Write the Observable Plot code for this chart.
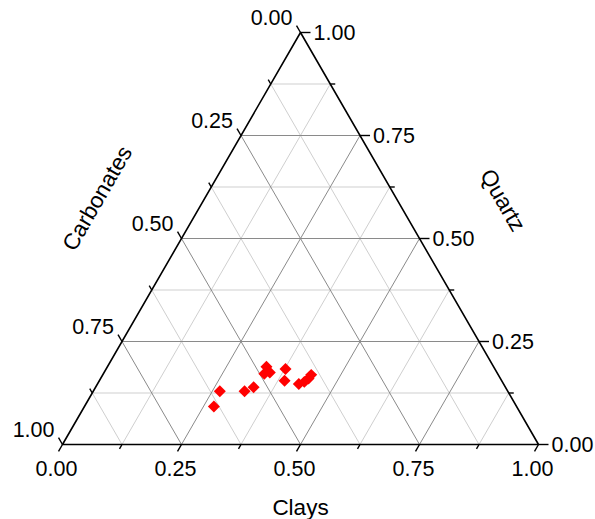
<!DOCTYPE html>
<html>
<head>
<meta charset="utf-8">
<script src="https://cdn.jsdelivr.net/npm/d3@7"></script>
<script src="https://cdn.jsdelivr.net/npm/@observablehq/plot@0.6"></script>
<style>
  html, body { margin: 0; padding: 0; background: #fff; }
  svg { display: block; }
</style>
</head>
<body>
<div id="chart"></div>
<script>
// ---- data (ternary fractions) ----
const clays      = [0.266, 0.272, 0.318, 0.332, 0.334, 0.338, 0.348, 0.377, 0.389, 0.423, 0.432, 0.437, 0.438];
const quartz     = [0.129, 0.092, 0.129, 0.139, 0.189, 0.172, 0.175, 0.183, 0.155, 0.147, 0.152, 0.160, 0.169];
const carbonates = clays.map((c, i) => +(1 - c - quartz[i]).toFixed(3));

const majorTicks = [0, 0.25, 0.5, 0.75, 1];
const minorTicks = [0.125, 0.375, 0.625, 0.875];
const tickLabels = ["0.00", "0.25", "0.50", "0.75", "1.00"];
const axisTitles = ["Clays", "Carbonates", "Quartz"];

// ---- ternary -> cartesian (clays = bottom-right, quartz = top, carbonates = bottom-left) ----
const S = Math.sqrt(3) / 2;
const tx = (c, q) => c + q / 2;
const ty = (c, q) => q * S;
const PX = 1 / 476; // one pixel in data units

function gridLines(vals, kind) {
  const out = [];
  for (const v of vals) {
    out.push({a: [0, v], b: [1 - v, v], kind});       // constant quartz
    out.push({a: [v, 0], b: [v, 1 - v], kind});       // constant clays
    out.push({a: [1 - v, 0], b: [0, 1 - v], kind});   // constant carbonates
  }
  return out;
}
const innerMajor = majorTicks.filter(v => v > 0 && v < 1);
const grid = [...gridLines(minorTicks, "minor"), ...gridLines(innerMajor, "major")];

const outline = [[0, 0], [1, 0], [0, 1], [0, 0]].map(([c, q]) => ({x: tx(c, q), y: ty(c, q)}));

const allTicks = [...majorTicks.map(v => ({v, major: true})), ...minorTicks.map(v => ({v, major: false}))];
const tickSegs = [];
for (const t of allTicks) {
  const L = (t.major ? 8 : 5) * PX;
  let x = tx(t.v, 0), y = ty(t.v, 0);
  tickSegs.push({x1: x, y1: y, x2: x - 0.5 * L, y2: y - S * L});
  x = tx(0, 1 - t.v); y = ty(0, 1 - t.v);
  tickSegs.push({x1: x, y1: y, x2: x - 0.5 * L, y2: y + S * L});
  x = tx(1 - t.v, t.v); y = ty(1 - t.v, t.v);
  tickSegs.push({x1: x, y1: y, x2: x + (t.major ? 10 : 5) * PX, y2: y});
}

const L8 = 8 * PX;
const claysLabels = majorTicks.map((v, i) => ({x: tx(v, 0) - 0.5 * L8, y: ty(v, 0) - S * L8, t: tickLabels[i]}));
const carbLabels  = majorTicks.map((v, i) => ({x: tx(0, 1 - v) - 0.5 * L8, y: ty(0, 1 - v) + S * L8, t: tickLabels[i]}));
const quartzLabels = majorTicks.map((v, i) => ({x: tx(1 - v, v) + 10 * PX, y: ty(1 - v, v), t: tickLabels[i]}));

const points = clays.map((c, i) => ({x: tx(c, quartz[i]), y: ty(c, quartz[i]), carb: carbonates[i]}));

const font = "'Liberation Sans', Arial, sans-serif";
const FS = 21.5, TFS = 22.5;

const chart = Plot.plot({
  width: 595,
  height: 519,
  marginLeft: 62,
  marginRight: 57,
  marginTop: 32,
  marginBottom: 75,
  x: {domain: [0, 1], axis: null},
  y: {domain: [0, S], axis: null},
  style: {fontFamily: font, background: "#fff", overflow: "visible"},
  marks: [
    Plot.link(grid, {
      x1: d => tx(...d.a), y1: d => ty(...d.a), x2: d => tx(...d.b), y2: d => ty(...d.b),
      stroke: d => d.kind === "major" ? "#8a8a8a" : "#cfcfcf",
      strokeWidth: 1
    }),
    Plot.line(outline, {x: "x", y: "y", stroke: "#000", strokeWidth: 1.6}),
    Plot.link(tickSegs, {x1: "x1", y1: "y1", x2: "x2", y2: "y2", stroke: "#000", strokeWidth: 1.4}),
    Plot.text(claysLabels, {x: "x", y: "y", text: "t", fontSize: FS, fill: "#000", textAnchor: "middle", dx: -2, dy: 18}),
    Plot.text(carbLabels, {x: "x", y: "y", text: "t", fontSize: FS, fill: "#000", textAnchor: "end", dx: -4, dy: -7}),
    Plot.text(quartzLabels, {x: "x", y: "y", text: "t", fontSize: FS, fill: "#000", textAnchor: "start", dx: 3, dy: 1}),
    Plot.text([axisTitles[0]], {x: [0.5], y: [0], text: d => d, fontSize: TFS, fill: "#000", textAnchor: "middle", dy: 63}),
    Plot.text([axisTitles[1]], {x: [tx(0, 0.5)], y: [ty(0, 0.5)], text: d => d, fontSize: TFS, fill: "#000", textAnchor: "middle", rotate: -60, dx: -84, dy: -40}),
    Plot.text([axisTitles[2]], {x: [tx(0.5, 0.5)], y: [ty(0.5, 0.5)], text: d => d, fontSize: TFS, fill: "#000", textAnchor: "middle", rotate: 60, dx: 83, dy: -38}),
    Plot.dot(points, {x: "x", y: "y", symbol: "diamond2", r: 5.4, fill: "#ff0000", stroke: null})
  ]
});
document.getElementById("chart").appendChild(chart);
</script>
</body>
</html>
